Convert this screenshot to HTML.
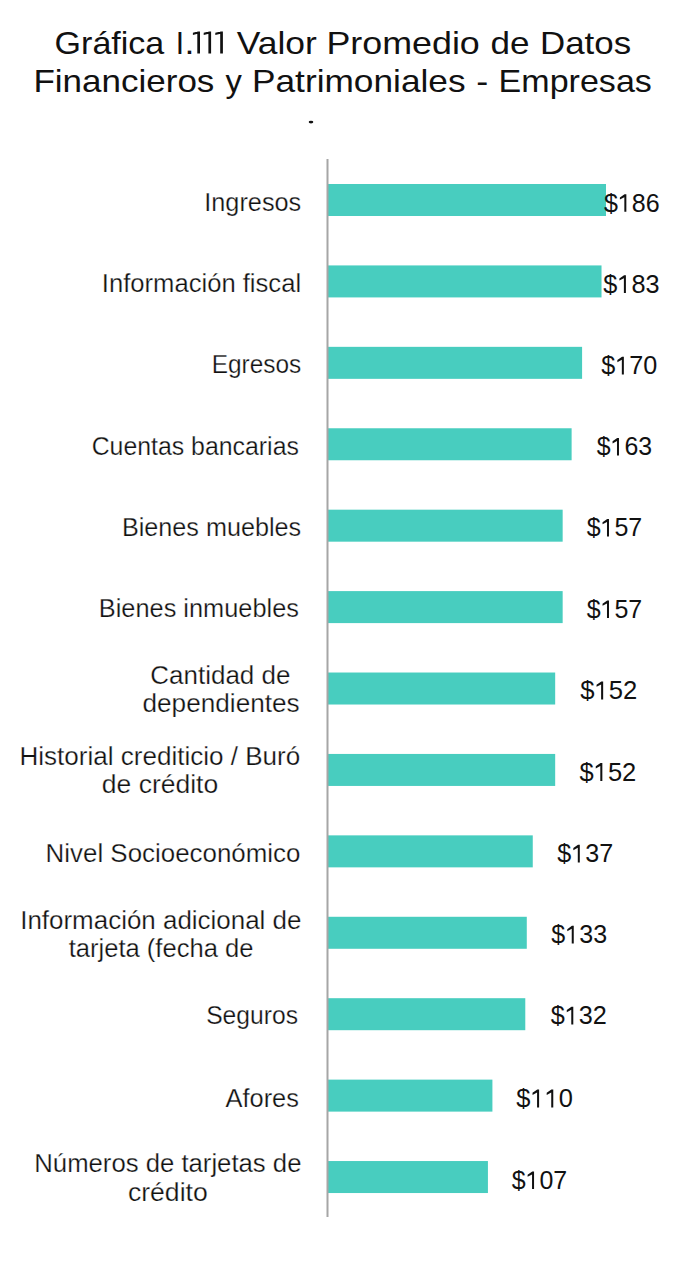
<!DOCTYPE html><html><head><meta charset="utf-8"><style>html,body{margin:0;padding:0;background:#fff;}svg{display:block;}text{font-family:"Liberation Sans",sans-serif;}</style></head><body>
<svg width="700" height="1265" viewBox="0 0 700 1265">
<rect width="700" height="1265" fill="#fff"/>
<text x="54.59" y="53.50" font-size="31.5" fill="#111" textLength="109.71" lengthAdjust="spacingAndGlyphs">Gráfica</text>
<text x="175.83" y="53.50" font-size="31.5" fill="#111" textLength="8.34" lengthAdjust="spacingAndGlyphs">I</text>
<text x="184.44" y="53.50" font-size="31.5" fill="#111" textLength="9.92" lengthAdjust="spacingAndGlyphs">.</text>
<text x="236.75" y="53.50" font-size="31.5" fill="#111" textLength="80.12" lengthAdjust="spacingAndGlyphs">Valor</text>
<text x="326.46" y="53.50" font-size="31.5" fill="#111" textLength="153.34" lengthAdjust="spacingAndGlyphs">Promedio</text>
<text x="490.53" y="53.50" font-size="31.5" fill="#111" textLength="39.03" lengthAdjust="spacingAndGlyphs">de</text>
<text x="540.04" y="53.50" font-size="31.5" fill="#111" textLength="91.12" lengthAdjust="spacingAndGlyphs">Datos</text>
<text x="33.43" y="91.60" font-size="31.5" fill="#111" textLength="180.94" lengthAdjust="spacingAndGlyphs">Financieros</text>
<text x="225.42" y="91.60" font-size="31.5" fill="#111" textLength="16.34" lengthAdjust="spacingAndGlyphs">y</text>
<text x="252.01" y="91.60" font-size="31.5" fill="#111" textLength="213.57" lengthAdjust="spacingAndGlyphs">Patrimoniales</text>
<text x="476.20" y="91.60" font-size="31.5" fill="#111" textLength="12.00" lengthAdjust="spacingAndGlyphs">-</text>
<text x="498.61" y="91.60" font-size="31.5" fill="#111" textLength="153.22" lengthAdjust="spacingAndGlyphs">Empresas</text>
<ellipse cx="311" cy="122.1" rx="2.3" ry="1.4" fill="#111"/>
<path d="M197.30 31.4 L200.00 31.4 L200.00 53.5 L197.30 53.5 Z M192.90 32.8 L197.60 31.4 L197.60 33.8 L192.90 35.1 Z" fill="#111"/>
<path d="M208.40 31.4 L211.10 31.4 L211.10 53.5 L208.40 53.5 Z M203.70 32.8 L208.70 31.4 L208.70 33.8 L203.70 35.1 Z" fill="#111"/>
<path d="M220.20 31.4 L222.90 31.4 L222.90 53.5 L220.20 53.5 Z M215.30 32.8 L220.50 31.4 L220.50 33.8 L215.30 35.1 Z" fill="#111"/>
<rect x="328" y="184.00" width="278.00" height="32" fill="#48CDBF"/>
<rect x="328" y="265.42" width="273.52" height="32" fill="#48CDBF"/>
<rect x="328" y="346.84" width="254.09" height="32" fill="#48CDBF"/>
<rect x="328" y="428.26" width="243.62" height="32" fill="#48CDBF"/>
<rect x="328" y="509.68" width="234.66" height="32" fill="#48CDBF"/>
<rect x="328" y="591.10" width="234.66" height="32" fill="#48CDBF"/>
<rect x="328" y="672.52" width="227.18" height="32" fill="#48CDBF"/>
<rect x="328" y="753.94" width="227.18" height="32" fill="#48CDBF"/>
<rect x="328" y="835.36" width="204.76" height="32" fill="#48CDBF"/>
<rect x="328" y="916.78" width="198.78" height="32" fill="#48CDBF"/>
<rect x="328" y="998.20" width="197.29" height="32" fill="#48CDBF"/>
<rect x="328" y="1079.62" width="164.41" height="32" fill="#48CDBF"/>
<rect x="328" y="1161.04" width="159.92" height="32" fill="#48CDBF"/>
<rect x="326.5" y="159" width="2" height="1058" fill="#A6A6A6"/>
<g stroke="#fff" stroke-width="0.25">
<text x="204.27" y="211.20" font-size="25" fill="#111" textLength="96.95" lengthAdjust="spacingAndGlyphs">Ingresos</text>
<text x="101.84" y="292.00" font-size="25" fill="#111" textLength="199.28" lengthAdjust="spacingAndGlyphs">Información fiscal</text>
<text x="211.70" y="373.30" font-size="25" fill="#111" textLength="89.48" lengthAdjust="spacingAndGlyphs">Egresos</text>
<text x="91.64" y="454.50" font-size="25" fill="#111" textLength="207.26" lengthAdjust="spacingAndGlyphs">Cuentas bancarias</text>
<text x="121.93" y="535.60" font-size="25" fill="#111" textLength="179.28" lengthAdjust="spacingAndGlyphs">Bienes muebles</text>
<text x="98.82" y="616.60" font-size="25" fill="#111" textLength="200.10" lengthAdjust="spacingAndGlyphs">Bienes inmuebles</text>
<text x="150.28" y="683.50" font-size="25" fill="#111" textLength="140.17" lengthAdjust="spacingAndGlyphs">Cantidad de</text>
<text x="142.50" y="711.80" font-size="25" fill="#111" textLength="157.14" lengthAdjust="spacingAndGlyphs">dependientes</text>
<text x="19.46" y="765.20" font-size="25" fill="#111" textLength="280.73" lengthAdjust="spacingAndGlyphs">Historial crediticio / Buró</text>
<text x="101.89" y="793.20" font-size="25" fill="#111" textLength="116.32" lengthAdjust="spacingAndGlyphs">de crédito</text>
<text x="45.57" y="861.70" font-size="25" fill="#111" textLength="254.91" lengthAdjust="spacingAndGlyphs">Nivel Socioeconómico</text>
<text x="20.21" y="928.70" font-size="25" fill="#111" textLength="281.25" lengthAdjust="spacingAndGlyphs">Información adicional de</text>
<text x="68.71" y="956.80" font-size="25" fill="#111" textLength="184.72" lengthAdjust="spacingAndGlyphs">tarjeta (fecha de</text>
<text x="206.18" y="1023.50" font-size="25" fill="#111" textLength="91.81" lengthAdjust="spacingAndGlyphs">Seguros</text>
<text x="225.55" y="1106.80" font-size="25" fill="#111" textLength="73.37" lengthAdjust="spacingAndGlyphs">Afores</text>
<text x="34.29" y="1172.20" font-size="25" fill="#111" textLength="267.15" lengthAdjust="spacingAndGlyphs">Números de tarjetas de</text>
<text x="127.97" y="1200.70" font-size="25" fill="#111" textLength="79.74" lengthAdjust="spacingAndGlyphs">crédito</text>
</g>
<text x="603.93" y="211.70" font-size="26" fill="#111" textLength="55.77" lengthAdjust="spacingAndGlyphs">$ 86</text>
<path d="M619.88 197.45 L624.54 194.15 L626.35 194.15 L626.35 211.70 L624.34 211.70 L624.34 197.15 L619.88 199.55 Z" fill="#111"/>
<text x="603.33" y="292.90" font-size="26" fill="#111" textLength="56.18" lengthAdjust="spacingAndGlyphs">$ 83</text>
<path d="M619.39 278.52 L624.09 275.22 L625.91 275.22 L625.91 292.90 L623.89 292.90 L623.89 278.22 L619.39 280.62 Z" fill="#111"/>
<text x="601.33" y="374.40" font-size="26" fill="#111" textLength="56.05" lengthAdjust="spacingAndGlyphs">$ 70</text>
<path d="M617.36 360.06 L622.04 356.76 L623.86 356.76 L623.86 374.40 L621.84 374.40 L621.84 359.76 L617.36 362.16 Z" fill="#111"/>
<text x="596.73" y="455.40" font-size="26" fill="#111" textLength="55.36" lengthAdjust="spacingAndGlyphs">$ 63</text>
<path d="M612.56 441.28 L617.19 437.98 L618.98 437.98 L618.98 455.40 L616.99 455.40 L616.99 440.98 L612.56 443.38 Z" fill="#111"/>
<text x="586.63" y="536.40" font-size="26" fill="#111" textLength="55.63" lengthAdjust="spacingAndGlyphs">$ 57</text>
<path d="M602.54 522.20 L607.19 518.90 L608.99 518.90 L608.99 536.40 L606.99 536.40 L606.99 521.90 L602.54 524.30 Z" fill="#111"/>
<text x="586.63" y="617.90" font-size="26" fill="#111" textLength="55.63" lengthAdjust="spacingAndGlyphs">$ 57</text>
<path d="M602.54 603.70 L607.19 600.40 L608.99 600.40 L608.99 617.90 L606.99 617.90 L606.99 603.40 L602.54 605.80 Z" fill="#111"/>
<text x="580.22" y="699.40" font-size="26" fill="#111" textLength="57.07" lengthAdjust="spacingAndGlyphs">$ 52</text>
<path d="M596.54 684.74 L601.31 681.44 L603.16 681.44 L603.16 699.40 L601.11 699.40 L601.11 684.44 L596.54 686.84 Z" fill="#111"/>
<text x="579.53" y="780.90" font-size="26" fill="#111" textLength="56.76" lengthAdjust="spacingAndGlyphs">$ 52</text>
<path d="M595.76 766.34 L600.50 763.04 L602.34 763.04 L602.34 780.90 L600.30 780.90 L600.30 766.04 L595.76 768.44 Z" fill="#111"/>
<text x="557.33" y="862.40" font-size="26" fill="#111" textLength="55.93" lengthAdjust="spacingAndGlyphs">$ 37</text>
<path d="M573.33 848.10 L578.00 844.80 L579.81 844.80 L579.81 862.40 L577.80 862.40 L577.80 847.80 L573.33 850.20 Z" fill="#111"/>
<text x="551.33" y="943.40" font-size="26" fill="#111" textLength="55.77" lengthAdjust="spacingAndGlyphs">$ 33</text>
<path d="M567.28 929.15 L571.94 925.85 L573.75 925.85 L573.75 943.40 L571.74 943.40 L571.74 928.85 L567.28 931.25 Z" fill="#111"/>
<text x="550.73" y="1024.40" font-size="26" fill="#111" textLength="56.14" lengthAdjust="spacingAndGlyphs">$ 32</text>
<path d="M566.78 1010.03 L571.47 1006.73 L573.29 1006.73 L573.29 1024.40 L571.27 1024.40 L571.27 1009.73 L566.78 1012.13 Z" fill="#111"/>
<text x="516.33" y="1107.40" font-size="26" fill="#111" textLength="56.67" lengthAdjust="spacingAndGlyphs">$  0</text>
<path d="M532.53 1092.87 L537.27 1089.57 L539.10 1089.57 L539.10 1107.40 L537.07 1107.40 L537.07 1092.57 L532.53 1094.97 Z" fill="#111"/>
<path d="M546.70 1092.87 L551.43 1089.57 L553.27 1089.57 L553.27 1107.40 L551.23 1107.40 L551.23 1092.57 L546.70 1094.97 Z" fill="#111"/>
<text x="511.73" y="1188.90" font-size="26" fill="#111" textLength="55.52" lengthAdjust="spacingAndGlyphs">$ 07</text>
<path d="M527.61 1174.73 L532.25 1171.43 L534.05 1171.43 L534.05 1188.90 L532.05 1188.90 L532.05 1174.43 L527.61 1176.83 Z" fill="#111"/>
</svg></body></html>
